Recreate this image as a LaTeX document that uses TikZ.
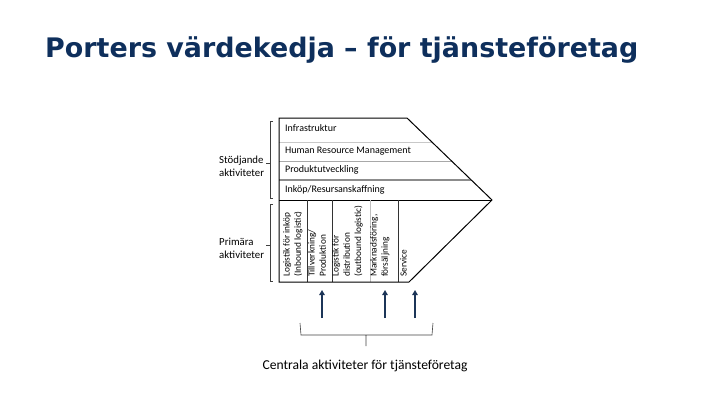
\documentclass[tikz,border=0pt]{standalone}
\usepackage{fontspec}
\setmainfont{Carlito}
\newfontfamily\titlefont{DejaVu Sans}
\usetikzlibrary{arrows.meta}
\definecolor{navy}{HTML}{0E2F5C}
\definecolor{arrowblue}{HTML}{1C3558}
\definecolor{sepA}{HTML}{C8C8C8}
\definecolor{sepB}{HTML}{A8A8A8}
\definecolor{sepC}{HTML}{8C8C8C}
\tikzset{
  boxtext/.style={font=\fontsize{10}{11}\selectfont, anchor=west, inner sep=0pt},
  coltext/.style={font=\fontsize{9.3}{11.2}\selectfont, rotate=90, anchor=north west, align=left, inner sep=0pt},
  sidetext/.style={font=\fontsize{10.8}{13}\selectfont, anchor=west, align=left, inner sep=0pt},
  brace/.style={draw=black!75, line width=0.6pt},
  uparrow/.style={draw=arrowblue, line width=1.7pt, -{Triangle[length=5pt,width=5.5pt]}},
}
\begin{document}
\begin{tikzpicture}[x=1pt,y=-1pt]
\useasboundingbox (0,0) rectangle (720,405);
\node[font=\titlefont\bfseries\fontsize{26.9}{30}\selectfont, text=navy, anchor=base west, inner sep=0pt] (title) at (45,57) {Porters värdekedja – för tjänsteföretag};

% chain shape
\coordinate (tl) at (279,118);
\coordinate (tr) at (407,118);
\coordinate (tip) at (492,200);
\coordinate (br) at (409,282);
\coordinate (bl) at (279,282);
\begin{scope}
\clip (tl) -- (tr) -- (tip) -- (br) -- (bl) -- cycle;
\draw[sepA, line width=0.8pt] (279,142) -- (500,142);
\draw[sepB, line width=0.8pt] (279,161) -- (500,161);
\draw[sepC, line width=1.6pt] (279,180) -- (500,180);
\end{scope}
\draw[black, line width=0.9pt] (279,200) -- (tip);
\draw[black!80, line width=0.6pt] (307,200) -- (307,282);
\draw[black!80, line width=0.6pt] (332,200) -- (332,282);
\draw[black!25, line width=0.5pt] (370,200) -- (370,282);
\draw[black!80, line width=0.6pt] (398,200) -- (398,282);
\draw[black, line width=1pt, line join=miter] (tl) -- (tr) -- (tip) -- (br) -- (bl) -- cycle;

\node[boxtext] (infra) at (285,128) {Infrastruktur};
\node[boxtext] (hrm) at (285,151) {Human Resource Management};
\node[boxtext] (prod) at (285,170) {Produktutveckling};
\node[boxtext] (ink) at (285,190) {Inköp/Resursanskaffning};

\node[coltext] (c1) at (283,277) {Logistik för inköp\\(Inbound logistic)};
\node[coltext] (c2) at (308,277) {Tillverkning/\\Produktion};
\node[coltext] (c3) at (332,277) {Logistik för\\distribution\\(outbound logistic)};
\node[coltext] (c4) at (370,277) {Marknadsföring,\\försäljning};
\node[coltext] (c5) at (400,277) {Service};

% side braces
\draw[brace] (273,121) -- (270,121) -- (270,163) -- (266,163) (270,163) -- (270,198) -- (273,198);
\draw[brace] (273,204) -- (270,204) -- (270,245) -- (266,245) (270,245) -- (270,281) -- (273,281);
\node[sidetext] (stod) at (219,166) {Stödjande\\aktiviteter};
\node[sidetext] (prim) at (219,248) {Primära\\aktiviteter};

% arrows
\coordinate (a1s) at (322,318); \coordinate (a1e) at (322,290);
\coordinate (a2s) at (385,318); \coordinate (a2e) at (385,290);
\coordinate (a3s) at (415,318); \coordinate (a3e) at (415,290);
\draw[uparrow] (a1s) -- (a1e);
\draw[uparrow] (a2s) -- (a2e);
\draw[uparrow] (a3s) -- (a3e);

% bottom brace
\draw[brace] (300,323) -- (301,335) -- (432,335) -- (433,323) (366,335) -- (366,346);
\node[font=\fontsize{13.6}{15}\selectfont, inner sep=0pt] (central) at (365,366) {Centrala aktiviteter för tjänsteföretag};
\end{tikzpicture}
\end{document}
